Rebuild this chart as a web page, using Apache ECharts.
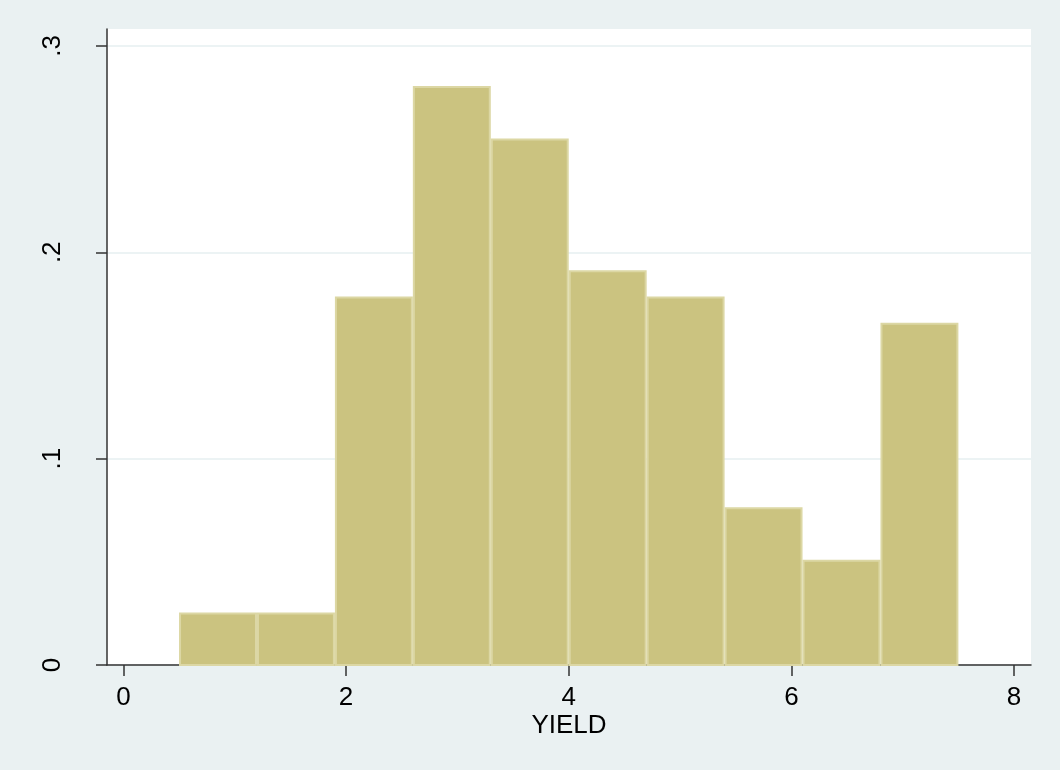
<!DOCTYPE html>
<html>
<head>
<meta charset="utf-8">
<script src="https://cdn.jsdelivr.net/npm/echarts@6/dist/echarts.min.js"></script>
<style>
  html, body { margin: 0; padding: 0; background: #eaf1f2; }
  #chart { width: 1060px; height: 770px; }
</style>
</head>
<body>
<div id="chart"></div>
<script>
// histogram bins of YIELD (width 0.7) and their densities
var binStart = [0.5, 1.2, 1.9, 2.6, 3.3, 4.0, 4.7, 5.4, 6.1, 6.8]
var binEnd = [1.2, 1.9, 2.6, 3.3, 4.0, 4.7, 5.4, 6.1, 6.8, 7.5]
var density = [0.0255, 0.0255, 0.1786, 0.2806, 0.2551, 0.1913, 0.1786, 0.0765, 0.0510, 0.1658]
var xTicks = [0, 2, 4, 6, 8]
var yTicks = [0, 0.1, 0.2, 0.3]

var font = '"Liberation Sans", Arial, Helvetica, sans-serif'

var chart = echarts.init(document.getElementById('chart'))

var data = binStart.map(function(s, i) {
  return [s, binEnd[i], density[i]]
})

var option = {
  backgroundColor: '#eaf1f2',
  animation: false,
  grid: {
    left: 107,
    right: 29,
    top: 29,
    bottom: 105,
    show: true,
    backgroundColor: '#ffffff',
    borderWidth: 0
  },
  xAxis: {
    type: 'value',
    min: -0.147,
    max: 8.152,
    name: 'YIELD',
    nameLocation: 'middle',
    nameGap: 48,
    nameMoveOverlap: false,
    nameTextStyle: { fontFamily: font, fontSize: 26, color: '#000' },
    axisLine: { show: true, onZero: false, lineStyle: { color: '#333', width: 1.5 } },
    axisTick: { show: true, length: 11, customValues: xTicks, lineStyle: { color: '#333', width: 1.5 } },
    axisLabel: {
      customValues: xTicks,
      margin: 20,
      fontFamily: font,
      fontSize: 26,
      color: '#000',
      formatter: function(v) { return String(v) }
    },
    splitLine: { show: false }
  },
  yAxis: {
    type: 'value',
    min: 0,
    max: 0.3082,
    interval: 0.1,
    axisLine: { show: true, onZero: false, lineStyle: { color: '#333', width: 1.5 } },
    axisTick: { show: true, length: 11, customValues: yTicks, lineStyle: { color: '#333', width: 1.5 } },
    axisLabel: {
      customValues: yTicks,
      rotate: 90,
      margin: 41,
      fontFamily: font,
      fontSize: 26,
      color: '#000',
      formatter: function(v) {
        return v === 0 ? '0' : String(v).replace(/^0/, '')
      }
    },
    splitLine: { show: true, lineStyle: { color: '#e6eff0', width: 1.5 } }
  },
  series: [
    {
      type: 'custom',
      data: data,
      encode: { x: [0, 1], y: 2 },
      renderItem: function(params, api) {
        var p0 = api.coord([api.value(0), api.value(2)])
        var p1 = api.coord([api.value(1), 0])
        return {
          type: 'rect',
          shape: { x: p0[0] + 1, y: p0[1] + 1, width: p1[0] - p0[0] - 2, height: p1[1] - p0[1] - 1 },
          style: { fill: '#cbc380', stroke: '#dcd7a4', lineWidth: 2 }
        }
      }
    }
  ]
}

chart.setOption(option)
</script>
</body>
</html>
